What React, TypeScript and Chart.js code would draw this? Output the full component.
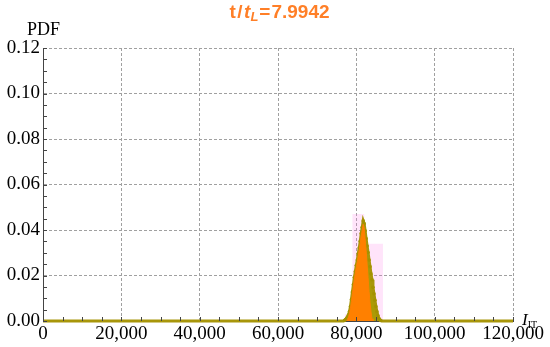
import React, { useEffect, useRef } from "react";
import { Chart, registerables } from "chart.js";

Chart.register(...registerables);

// ---- data ----
const xTickValues = [0, 20000, 40000, 60000, 80000, 100000, 120000];
const xTickLabels = ["0", "20,000", "40,000", "60,000", "80,000", "100,000", "120,000"];
const yTickValues = [0, 0.02, 0.04, 0.06, 0.08, 0.1, 0.12];
const yTickLabels = ["0.00", "0.02", "0.04", "0.06", "0.08", "0.10", "0.12"];

// olive (dotted) distribution
const oliveX = [
  0, 76750, 77000, 77250, 77500, 77750, 78000, 78250, 78500, 78750, 79000, 79250, 79500, 79750,
  80000, 80250, 80500, 80750, 81000, 81250, 81500, 81750, 82000, 82250, 82500, 82750, 83000,
  83250, 83500, 83750, 84000, 84250, 84500, 84750, 85000, 85250, 85500, 85750, 86000, 86250,
  86500, 120000,
];
const oliveY = [
  0, 0, 0.0003, 0.0006, 0.0012, 0.0018, 0.0027, 0.0042, 0.0064, 0.0095, 0.0128, 0.016, 0.0192,
  0.0218, 0.0245, 0.0268, 0.0297, 0.0322, 0.0351, 0.0385, 0.0412, 0.044, 0.0428, 0.0396, 0.0362,
  0.033, 0.0301, 0.0268, 0.0239, 0.0207, 0.0181, 0.0148, 0.012, 0.0091, 0.0064, 0.0041, 0.0024,
  0.0012, 0.0005, 0.0002, 0, 0,
];

// orange (filled) distribution
const orangeX = [
  77500, 77750, 78000, 78250, 78500, 78750, 79000, 79250, 79500, 79750, 80000, 80250, 80500,
  80750, 81000, 81250, 81500, 81750, 82000, 82250, 82500, 82750, 83000, 83250, 83500, 83750,
  84000, 84250,
];
const orangeY = [
  0.0002, 0.0008, 0.0018, 0.0034, 0.0056, 0.0086, 0.012, 0.0154, 0.0185, 0.0211, 0.0238, 0.026,
  0.0289, 0.0313, 0.0342, 0.0374, 0.04, 0.0425, 0.041, 0.0362, 0.031, 0.025, 0.019, 0.013, 0.008,
  0.004, 0.001, 0,
];

// pink envelope band
const pinkX = [77000, 79000, 82000, 86800, 87000];
const pinkY = [0.003, 0.047, 0.034, 0, 0];

const pts = (xs: number[], ys: number[]) => xs.map((x, i) => ({ x, y: ys[i] }));

const minorTicks = {
  id: "minorTicks",
  afterDraw(chart: any) {
    const { ctx, chartArea, scales } = chart;
    const xs = scales.x;
    const ys = scales.y;
    ctx.save();
    ctx.strokeStyle = "#444";
    ctx.lineWidth = 1;
    ctx.beginPath();
    for (let v = 0; v <= 120000; v += 5000) {
      const px = Math.round(xs.getPixelForValue(v)) + 0.5;
      ctx.moveTo(px, chartArea.bottom);
      ctx.lineTo(px, chartArea.bottom - 4);
    }
    for (let k = 0; k <= 24; k++) {
      const py = Math.round(ys.getPixelForValue(k * 0.005)) + 0.5;
      ctx.moveTo(chartArea.left, py);
      ctx.lineTo(chartArea.left + 4, py);
    }
    ctx.stroke();
    ctx.restore();
  },
};

export default function App() {
  const ref = useRef<HTMLCanvasElement>(null);

  useEffect(() => {
    if (!ref.current) return;
    const chart = new Chart(ref.current, {
      type: "line",
      data: {
        datasets: [
          {
            data: pts(orangeX, orangeY),
            borderColor: "#ff8000",
            backgroundColor: "#ff8000",
            borderWidth: 1,
            fill: "origin",
            pointRadius: 0,
            order: 1,
          },
          {
            data: pts(oliveX, oliveY),
            borderColor: "#a8960a",
            backgroundColor: "#ab9a06",
            borderWidth: 3,
            fill: "origin",
            pointRadius: (c: any) => (c.raw && c.raw.y > 0 ? 1.8 : 0),
            pointBackgroundColor: "#a39200",
            pointBorderWidth: 0,
            clip: 6,
            order: 2,
          },
          {
            data: pts(pinkX, pinkY),
            stepped: "before",
            borderWidth: 0,
            borderColor: "rgba(0,0,0,0)",
            backgroundColor: "rgba(255,120,230,0.2)",
            fill: "origin",
            pointRadius: 0,
            order: 3,
          },
        ],
      } as any,
      options: {
        responsive: false,
        animation: false,
        layout: { padding: { top: 48, right: 37, left: 0, bottom: 0 } },
        plugins: { legend: { display: false }, tooltip: { enabled: false }, title: { display: false } },
        scales: {
          x: {
            type: "linear",
            min: 0,
            max: 120000,
            afterBuildTicks: (s: any) => {
              s.ticks = xTickValues.map((v) => ({ value: v }));
            },
            afterFit: (s: any) => {
              s.height = 26;
            },
            ticks: {
              autoSkip: false,
              maxRotation: 0,
              padding: 2,
              color: "#000",
              font: { family: "'Liberation Serif'", size: 19 },
              callback: (v: any) => xTickLabels[xTickValues.indexOf(v)] ?? "",
            },
            grid: { color: "#a0a0a0", lineWidth: 1, drawTicks: false },
            border: { display: true, color: "#444", width: 1, dash: [3, 2] },
          },
          y: {
            type: "linear",
            min: 0,
            max: 0.12,
            afterBuildTicks: (s: any) => {
              s.ticks = yTickValues.map((v) => ({ value: v }));
            },
            afterFit: (s: any) => {
              s.width = 43;
            },
            ticks: {
              padding: 3,
              color: "#000",
              font: { family: "'Liberation Serif'", size: 19 },
              callback: (v: any) => {
                const i = yTickValues.findIndex((t) => Math.abs(t - v) < 1e-9);
                return i >= 0 ? yTickLabels[i] : "";
              },
            },
            grid: { color: "#a0a0a0", lineWidth: 1, drawTicks: false },
            border: { display: true, color: "#444", width: 1, dash: [3, 2] },
          },
        },
      } as any,
      plugins: [minorTicks],
    });
    return () => chart.destroy();
  }, []);

  return (
    <div style={{ position: "absolute", left: 0, top: 0, width: 550, height: 347, background: "#fff" }}>
      <canvas ref={ref} width={550} height={347} style={{ position: "absolute", left: 0, top: 0 }} />
      <div
        style={{
          position: "absolute",
          top: 1,
          left: 0,
          width: 559,
          textAlign: "center",
          font: "bold 19px 'Liberation Sans'",
          lineHeight: "22px",
          color: "#ff7f27",
          whiteSpace: "nowrap",
        }}
      >
        <span style={{ letterSpacing: 1.5 }}>t/</span>
        <i>t</i>
        <sub style={{ fontSize: 13, fontStyle: "italic", verticalAlign: -3 }}>L</sub>
        <span style={{ margin: "0 1px" }}>=</span>7.9942
      </div>
      <div
        style={{
          position: "absolute",
          top: 20,
          left: 27,
          font: "18px 'Liberation Serif'",
          lineHeight: "18px",
          color: "#000",
        }}
      >
        PDF
      </div>
      <div
        style={{
          position: "absolute",
          top: 311,
          left: 522,
          font: "italic 17px 'Liberation Serif'",
          lineHeight: "17px",
          color: "#000",
          whiteSpace: "nowrap",
        }}
      >
        I<span style={{ fontSize: 10, fontStyle: "normal", position: "relative", top: 3 }}>IT</span>
      </div>
    </div>
  );
}
